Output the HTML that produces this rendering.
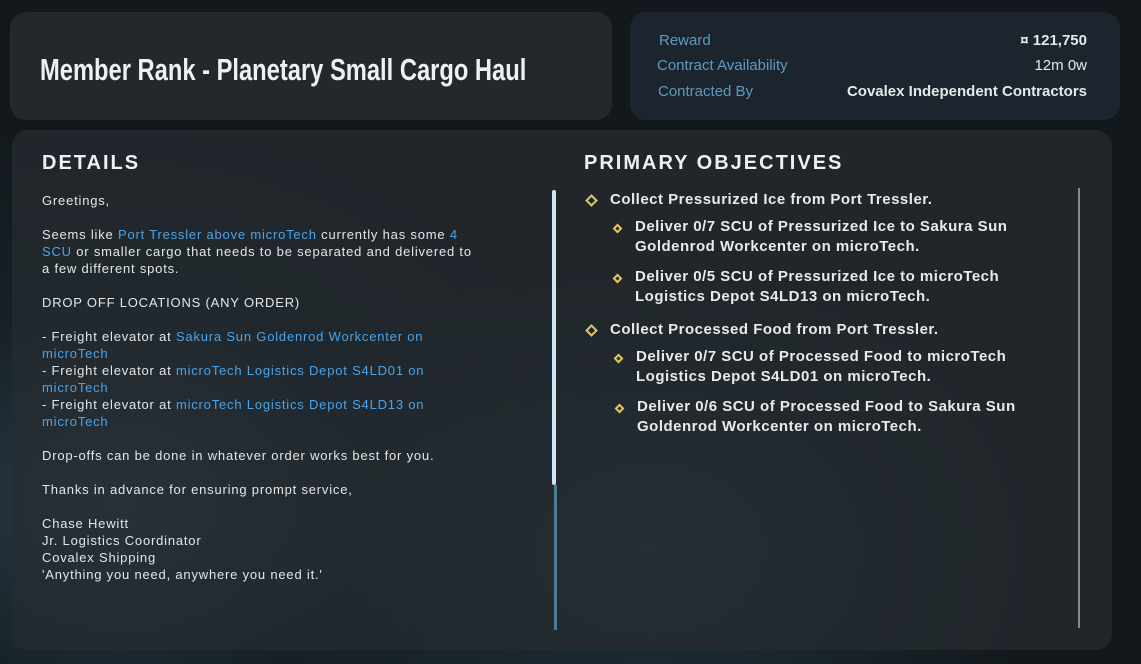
<!DOCTYPE html>
<html><head><meta charset="utf-8"><style>
*{margin:0;padding:0;box-sizing:border-box}
body{width:1141px;height:664px;overflow:hidden;background:#12181c;font-family:"Liberation Sans",sans-serif;color:#e6e8ea;position:relative}
.bg{position:absolute;inset:0;background:radial-gradient(ellipse 500px 400px at 120px 500px,#2a3d4a 0%,rgba(30,45,55,0.4) 50%,transparent 100%),radial-gradient(ellipse 400px 300px at 650px 550px,#22323c 0%,transparent 100%)}
.panel{position:absolute;background:rgba(40,46,50,0.75);border-radius:16px}
.abs{position:absolute;white-space:nowrap}
.lbl{color:#5b9bc2;font-size:15px}
.val{font-size:15px;font-weight:bold;text-align:right;right:54px}
.b{font-size:13px;line-height:17px;color:#e4e6e8;letter-spacing:0.8px}
.lk{color:#4aa3e8}
.h{font-size:20px;font-weight:bold;letter-spacing:2px;color:#eef0f2}
.o{font-size:15px;font-weight:bold;line-height:20px;color:#e9eaec;letter-spacing:0.5px}
.d{position:absolute;border:2px solid #e6c65a;transform:rotate(45deg)}
</style></head><body>
<div class="bg"></div>
<div class="panel" style="left:10px;top:12px;width:602px;height:108px"></div>
<div class="abs" style="left:40px;top:52px;font-size:31px;font-weight:bold;transform:scaleX(0.765);transform-origin:left top;color:#eef0f2">Member Rank - Planetary Small Cargo Haul</div>
<div class="panel" style="left:630px;top:12px;width:490px;height:108px;background:rgba(30,40,48,0.85)"></div>
<div class="abs lbl" style="left:659px;top:32px">Reward</div>
<div class="abs lbl" style="left:657px;top:57px">Contract Availability</div>
<div class="abs lbl" style="left:658px;top:83px">Contracted By</div>
<div class="abs val" style="top:32px">¤ 121,750</div>
<div class="abs val" style="top:57px;font-weight:normal">12m 0w</div>
<div class="abs val" style="top:83px">Covalex Independent Contractors</div>
<div class="panel" style="left:12px;top:130px;width:1100px;height:520px;background:rgba(38,44,48,0.7)"></div>
<div class="abs h" style="left:42px;top:152px">DETAILS</div>
<div class="abs b" style="left:42px;top:192px">Greetings,<br><br>Seems like <span class="lk">Port Tressler above microTech</span> currently has some <span class="lk">4</span><br><span class="lk">SCU</span> or smaller cargo that needs to be separated and delivered to<br>a few different spots.<br><br>DROP OFF LOCATIONS (ANY ORDER)<br><br>- Freight elevator at <span class="lk">Sakura Sun Goldenrod Workcenter on</span><br><span class="lk">microTech</span><br>- Freight elevator at <span class="lk">microTech Logistics Depot S4LD01 on</span><br><span class="lk">microTech</span><br>- Freight elevator at <span class="lk">microTech Logistics Depot S4LD13 on</span><br><span class="lk">microTech</span><br><br>Drop-offs can be done in whatever order works best for you.<br><br>Thanks in advance for ensuring prompt service,<br><br>Chase Hewitt<br>Jr. Logistics Coordinator<br>Covalex Shipping<br>'Anything you need, anywhere you need it.'</div>
<div class="abs" style="left:552px;top:190px;width:4px;height:295px;background:#cfe6f7;border-radius:2px"></div>
<div class="abs" style="left:554px;top:485px;width:3px;height:145px;background:#4d7c96"></div>
<div class="abs h" style="left:584px;top:152px">PRIMARY OBJECTIVES</div>
<div class="d" style="left:587px;top:196px;width:9px;height:9px"></div>
<div class="abs o" style="left:610px;top:190px">Collect Pressurized Ice from Port Tressler.</div>
<div class="d" style="left:614px;top:225px;width:7px;height:7px"></div>
<div class="abs o" style="left:635px;top:217px">Deliver 0/7 SCU of Pressurized Ice to Sakura Sun<br>Goldenrod Workcenter on microTech.</div>
<div class="d" style="left:614px;top:275px;width:7px;height:7px"></div>
<div class="abs o" style="left:635px;top:267px">Deliver 0/5 SCU of Pressurized Ice to microTech<br>Logistics Depot S4LD13 on microTech.</div>
<div class="d" style="left:587px;top:326px;width:9px;height:9px"></div>
<div class="abs o" style="left:610px;top:320px">Collect Processed Food from Port Tressler.</div>
<div class="d" style="left:615px;top:355px;width:7px;height:7px"></div>
<div class="abs o" style="left:636px;top:347px">Deliver 0/7 SCU of Processed Food to microTech<br>Logistics Depot S4LD01 on microTech.</div>
<div class="d" style="left:616px;top:405px;width:7px;height:7px"></div>
<div class="abs o" style="left:637px;top:397px">Deliver 0/6 SCU of Processed Food to Sakura Sun<br>Goldenrod Workcenter on microTech.</div>
<div class="abs" style="left:1078px;top:188px;width:2px;height:440px;background:#7f8c94"></div>
</body></html>
